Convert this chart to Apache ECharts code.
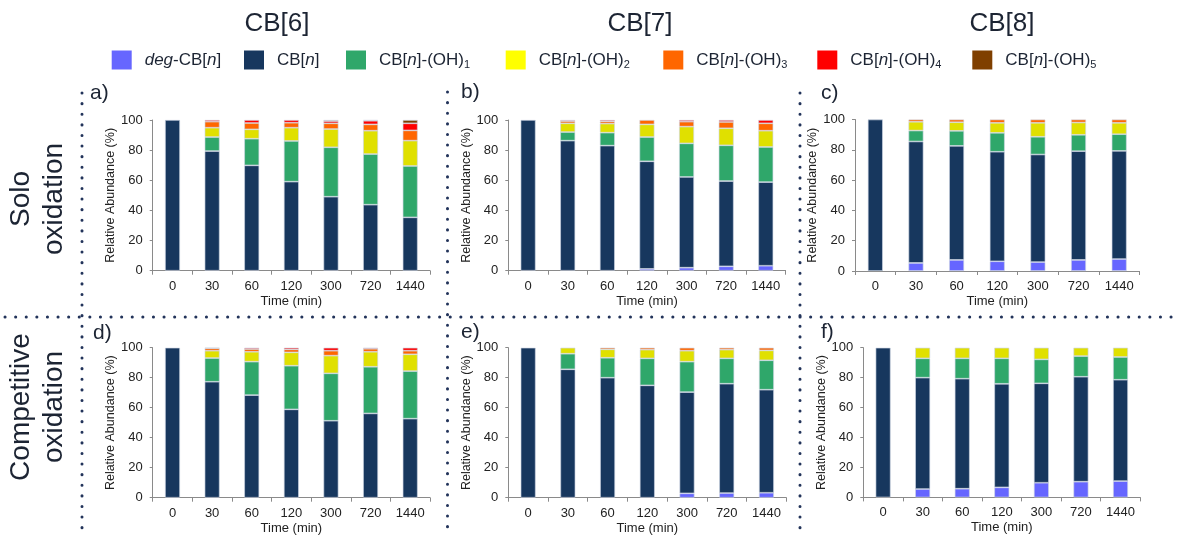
<!DOCTYPE html>
<html>
<head>
<meta charset="utf-8">
<script src="https://cdn.jsdelivr.net/npm/echarts@6/dist/echarts.min.js"></script>
<style>
  html, body { margin: 0; padding: 0; background: #fff; }
  #chart { width: 1178px; height: 538px; }
</style>
</head>
<body>
<div id="chart"></div>
<script>
// Sampling times (min)
const times = ['0', '30', '60', '120', '300', '720', '1440'];

// Species, bottom of the stack first
const speciesNames = ['deg-CB[n]', 'CB[n]', 'CB[n]-(OH)1', 'CB[n]-(OH)2', 'CB[n]-(OH)3', 'CB[n]-(OH)4', 'CB[n]-(OH)5'];
const legendLabels = [
  '{it|deg}-CB[{it|n}]',
  'CB[{it|n}]',
  'CB[{it|n}]-(OH){sub|1}',
  'CB[{it|n}]-(OH){sub|2}',
  'CB[{it|n}]-(OH){sub|3}',
  'CB[{it|n}]-(OH){sub|4}',
  'CB[{it|n}]-(OH){sub|5}'
];
const speciesColors = ['#6666ff', '#17375e', '#2fa76a', '#e0e000', '#ff6600', '#ff0000', '#7f3f00'];
const legendColors = ['#6666ff', '#17375e', '#2fa76a', '#ffff00', '#ff6600', '#ff0000', '#7f3f00'];

// Relative abundance (%) — one row per species, one value per time point
// a) CB[6], solo oxidation
const cb6Solo = [
  [0, 0, 0, 0, 0, 0, 0],
  [100, 79.4, 69.9, 59.1, 49.1, 43.8, 35.4],
  [0, 9.3, 17.7, 27.0, 32.8, 33.6, 34.1],
  [0, 6.2, 6.2, 8.8, 12.1, 15.5, 16.8],
  [0, 4.0, 4.2, 3.3, 3.8, 4.2, 6.8],
  [0, 1.1, 2.0, 1.8, 1.5, 2.4, 4.7],
  [0, 0, 0, 0, 0.7, 0.5, 2.2]
];
// b) CB[7], solo oxidation
const cb7Solo = [
  [0, 0, 0, 1.2, 2.0, 2.9, 3.3],
  [100, 86.3, 83.0, 71.4, 60.2, 56.6, 55.5],
  [0, 5.7, 8.6, 16.1, 22.3, 23.7, 23.3],
  [0, 5.8, 6.0, 8.4, 11.1, 11.3, 10.8],
  [0, 1.5, 1.5, 2.9, 3.3, 4.2, 4.9],
  [0, 0.7, 0.9, 0, 1.1, 1.3, 2.2],
  [0, 0, 0, 0, 0, 0, 0]
];
// c) CB[8], solo oxidation
const cb8Solo = [
  [0, 5.3, 7.3, 6.4, 5.9, 7.3, 7.9],
  [100, 80.2, 75.3, 72.3, 71.0, 71.8, 71.4],
  [0, 7.2, 9.9, 12.5, 11.7, 10.8, 11.0],
  [0, 5.8, 5.7, 6.6, 9.2, 8.1, 7.5],
  [0, 1.5, 1.8, 2.2, 2.2, 2.0, 2.2],
  [0, 0, 0, 0, 0, 0, 0],
  [0, 0, 0, 0, 0, 0, 0]
];
// d) CB[6], competitive oxidation
const cb6Comp = [
  [0, 0, 0, 0, 0, 0, 0],
  [100, 77.3, 68.4, 58.9, 51.3, 56.2, 52.7],
  [0, 15.8, 22.3, 29.1, 31.6, 31.1, 31.7],
  [0, 4.9, 6.6, 8.9, 11.8, 10.0, 11.2],
  [0, 1.6, 1.8, 2.0, 3.3, 2.0, 2.4],
  [0, 0.4, 0.9, 1.1, 2.0, 0.7, 2.0],
  [0, 0, 0, 0, 0, 0, 0]
];
// e) CB[7], competitive oxidation
const cb7Comp = [
  [0, 0, 0, 0, 2.9, 3.1, 3.3],
  [100, 85.6, 80.0, 74.9, 67.5, 72.9, 68.7],
  [0, 10.4, 13.3, 18.0, 20.3, 16.9, 19.6],
  [0, 4.0, 5.6, 5.8, 7.3, 5.8, 6.6],
  [0, 0, 1.1, 1.3, 2.0, 1.3, 1.8],
  [0, 0, 0, 0, 0, 0, 0],
  [0, 0, 0, 0, 0, 0, 0]
];
// f) CB[8], competitive oxidation
const cb8Comp = [
  [0, 5.6, 5.8, 6.7, 9.8, 10.5, 10.9],
  [100, 74.4, 73.5, 69.2, 66.4, 70.1, 67.7],
  [0, 12.9, 13.6, 17.0, 16.0, 13.8, 15.2],
  [0, 7.1, 7.1, 7.1, 7.8, 5.6, 6.2],
  [0, 0, 0, 0, 0, 0, 0],
  [0, 0, 0, 0, 0, 0, 0],
  [0, 0, 0, 0, 0, 0, 0]
];

const yTicks = { min: 0, max: 100, interval: 20 };
const columnTitles = ['CB[6]', 'CB[7]', 'CB[8]'];
const rowTitles = ['Solo\noxidation', 'Competitive\noxidation'];
const panelLetters = ['a)', 'b)', 'c)', 'd)', 'e)', 'f)'];

// Layout of the six plots
const FONT = '"Liberation Sans", Arial, Helvetica, sans-serif';
const TEXT = '#1c2433';
const AXIS = '#8a8a8a';
const panelData = [cb6Solo, cb7Solo, cb8Solo, cb6Comp, cb7Comp, cb8Comp];
const grids = [
  { left: 152.7, top: 120, width: 277.3, height: 150.7 },
  { left: 508.3, top: 120, width: 277.3, height: 150.7 },
  { left: 855, top: 119.5, width: 284.5, height: 151.5 },
  { left: 152.7, top: 347.7, width: 277.3, height: 150 },
  { left: 508.3, top: 347.7, width: 278, height: 150 },
  { left: 863.3, top: 347.7, width: 277, height: 149.7 }
];
const letterPos = [[90, 83], [461, 82], [821, 83], [93, 323], [461, 322], [821, 322]];

const xAxes = grids.map((g, i) => ({
  type: 'category', gridIndex: i, data: times,
  axisLine: { show: true, lineStyle: { color: AXIS, width: 1 } },
  axisTick: { show: true, length: 4, lineStyle: { color: AXIS } },
  axisLabel: { color: '#222', fontSize: 13, fontFamily: FONT, margin: 9 },
  name: 'Time (min)', nameLocation: 'middle', nameGap: 24,
  nameTextStyle: { color: '#222', fontSize: 13, fontFamily: FONT }
}));
const yAxes = grids.map((g, i) => ({
  type: 'value', gridIndex: i, min: yTicks.min, max: yTicks.max, interval: yTicks.interval,
  axisLine: { show: true, lineStyle: { color: AXIS, width: 1 } },
  axisTick: { show: true, length: 3, lineStyle: { color: AXIS } },
  splitLine: { show: false },
  axisLabel: { color: '#222', fontSize: 13, fontFamily: FONT, margin: 10 },
  name: 'Relative Abundance (%)', nameLocation: 'middle', nameGap: 32,
  nameTextStyle: { color: '#222', fontSize: 12.5, fontFamily: FONT }
}));

const series = [];
panelData.forEach((rows, p) => {
  rows.forEach((vals, k) => {
    series.push({
      type: 'bar', name: speciesNames[k], xAxisIndex: p, yAxisIndex: p,
      stack: 'panel' + p, barWidth: 15,
      data: vals.map(v => (v === 0 ? '-' : v)),
      itemStyle: { color: speciesColors[k], borderColor: 'rgba(205,214,228,0.9)', borderWidth: 0.7 },
      emphasis: { disabled: true }
    });
  });
});

// One legend block per species so each can sit at its own spot
const legendLeft = [111.7, 244, 346, 505.7, 663.3, 817.3, 972.3];
const legends = speciesNames.map((name, k) => ({
  left: legendLeft[k], top: 50, padding: 0, orient: 'horizontal',
  itemWidth: 20, itemHeight: 19, icon: 'rect', selectedMode: false,
  data: [{ name: name, itemStyle: { color: legendColors[k], borderWidth: 0 } }],
  formatter: () => legendLabels[k],
  textStyle: {
    color: TEXT, fontSize: 17, fontFamily: FONT, lineHeight: 20, padding: [0, 0, 0, 8],
    rich: {
      it: { fontStyle: 'italic', fontSize: 17, fontFamily: FONT, color: TEXT, lineHeight: 20 },
      sub: { fontSize: 11, fontFamily: FONT, color: TEXT, verticalAlign: 'bottom', lineHeight: 8 }
    }
  }
}));

const graphics = [];
// Column headings
[277, 640, 1002].forEach((x, i) => graphics.push({
  type: 'text', x: x, y: 24,
  style: { text: columnTitles[i], fill: TEXT, fontSize: 26, fontFamily: FONT, align: 'center', verticalAlign: 'middle' }
}));
// Row headings, reading bottom to top
[199, 407].forEach((y, i) => graphics.push({
  type: 'text', x: 38, y: y, rotation: Math.PI / 2,
  style: { text: rowTitles[i], fill: TEXT, fontSize: 28, fontFamily: FONT, align: 'center', verticalAlign: 'middle', lineHeight: 33 }
}));
// Panel letters
letterPos.forEach((pos, i) => graphics.push({
  type: 'text', x: pos[0], y: pos[1],
  style: { text: panelLetters[i], fill: TEXT, fontSize: 21, fontFamily: FONT, align: 'left', verticalAlign: 'top' }
}));
// Dotted separators
const dot = { stroke: '#22335a', lineWidth: 3, lineDash: [0.1, 10.5], lineCap: 'round' };
[[82, 93, 82, 530], [447.5, 92, 447.5, 530], [800, 93, 800, 530], [5, 317, 1178, 317]].forEach(s => graphics.push({
  type: 'line', silent: true,
  shape: { x1: s[0], y1: s[1], x2: s[2], y2: s[3] },
  style: dot
}));

const chart = echarts.init(document.getElementById('chart'), null, { renderer: 'canvas' });
chart.setOption({
  animation: false,
  backgroundColor: '#ffffff',
  grid: grids.map(g => Object.assign({ containLabel: false }, g)),
  xAxis: xAxes,
  yAxis: yAxes,
  legend: legends,
  series: series,
  graphic: graphics
});
</script>
</body>
</html>
